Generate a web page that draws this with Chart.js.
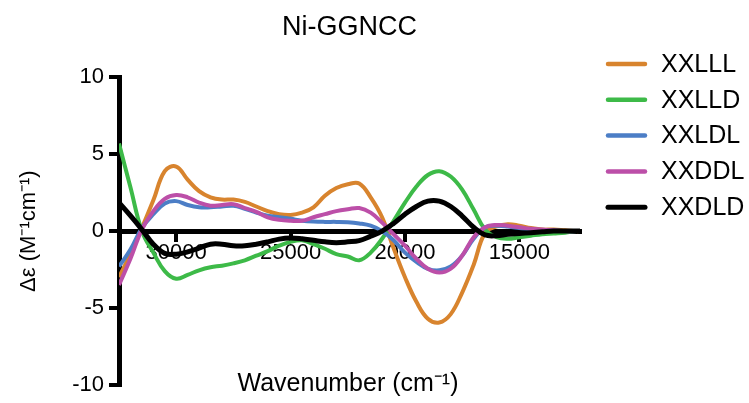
<!DOCTYPE html>
<html>
<head>
<meta charset="utf-8">
<script src="https://cdn.jsdelivr.net/npm/chart.js@4.4.0/dist/chart.umd.min.js"></script>
<style>
  html, body { margin: 0; padding: 0; background: #fff; }
  canvas { display: block; }
</style>
</head>
<body>
<canvas id="cdChart" width="749" height="403"></canvas>
<script>
// Wavenumber grid (cm-1), every 500
const wavenumbers = [32500, 32000, 31500, 31000, 30500, 30000, 29500, 29000, 28500, 28000,
  27500, 27000, 26500, 26000, 25500, 25000, 24500, 24000, 23500, 23000,
  22500, 22000, 21500, 21000, 20500, 20000, 19500, 19000, 18500, 18000,
  17500, 17000, 16500, 16000, 15500, 15000, 14500, 14000, 13500, 13000, 12500, 12350];

const seriesNames = ['XXLLL', 'XXLLD', 'XXLDL', 'XXDDL', 'XXDLD'];

const xxlll = [-3.0, -1.5, 0.2, 2.0, 3.9, 4.2, 3.35, 2.6, 2.2, 2.05,
  2.05, 1.9, 1.6, 1.3, 1.1, 1.05, 1.2, 1.55, 2.3, 2.8,
  3.05, 3.1, 2.2, 0.9, -1.1, -3.0, -4.6, -5.7, -5.95, -5.4,
  -4.0, -2.2, -0.1, 0.3, 0.45, 0.35, 0.2, 0.1, 0.1, 0.05, 0, 0];

const xxlld = [5.7, 2.85, 0.0, -1.4, -2.6, -3.1, -2.85, -2.55, -2.35, -2.25,
  -2.1, -1.9, -1.6, -1.3, -0.95, -0.7, -0.6, -0.85, -1.15, -1.5,
  -1.65, -1.9, -1.4, -0.5, 0.65, 1.85, 2.9, 3.65, 3.9, 3.55,
  2.7, 1.4, 0.1, -0.4, -0.5, -0.4, -0.3, -0.2, -0.15, -0.1, 0, 0];

const xxldl = [-2.3, -1.2, 0.2, 1.1, 1.8, 1.95, 1.7, 1.55, 1.55, 1.6,
  1.65, 1.45, 1.2, 1.0, 0.9, 0.8, 0.68, 0.62, 0.6, 0.6,
  0.58, 0.5, 0.35, 0.0, -0.6, -1.4, -2.0, -2.45, -2.55, -2.3,
  -1.6, -0.5, 0.25, 0.35, 0.3, 0.2, 0.1, 0.05, 0.05, 0, 0, 0];

const xxddl = [-3.5, -1.8, 0.1, 1.3, 2.1, 2.35, 2.2, 1.85, 1.65, 1.7,
  1.75, 1.5, 1.25, 0.9, 0.73, 0.67, 0.67, 0.9, 1.1, 1.3,
  1.42, 1.5, 1.2, 0.55, -0.2, -0.95, -1.8, -2.45, -2.7, -2.45,
  -1.6, -0.4, 0.25, 0.4, 0.35, 0.25, 0.15, 0.1, 0.05, 0, 0, 0];

const xxdld = [1.85, 1.0, 0.1, -0.85, -1.45, -1.5, -1.35, -1.1, -0.85, -0.85,
  -0.95, -0.95, -0.85, -0.7, -0.52, -0.45, -0.5, -0.6, -0.7, -0.75,
  -0.7, -0.62, -0.33, 0.0, 0.5, 1.1, 1.6, 1.95, 1.95, 1.6,
  0.98, 0.25, -0.25, -0.3, -0.2, -0.15, -0.1, -0.05, 0, 0, 0, 0];

const xTickValues = [30000, 25000, 20000, 15000];
const yTickValues = [-10, -5, 0, 5, 10];

const seriesValues = [xxlll, xxlld, xxldl, xxddl, xxdld];
const seriesColors = ['#D8842E', '#3DBA48', '#4C7EC6', '#BC4FA8', '#000000'];
const FONT = "'Liberation Sans', Arial, sans-serif";

// legend + x title drawn by hand (x axis sits at y = 0)
const extrasPlugin = {
  id: 'extras',
  afterDraw(chart) {
    const ctx = chart.ctx;
    ctx.save();
    ctx.fillStyle = '#000';
    ctx.font = '25px ' + FONT;
    ctx.textAlign = 'center';
    ctx.textBaseline = 'middle';
    ctx.fillText('Wavenumber (cm\u207B\u00B9)', 348, 384);

    ctx.textAlign = 'left';
    ctx.lineCap = 'round';
    seriesNames.forEach((name, i) => {
      const y = 64 + i * 35.8;
      ctx.strokeStyle = seriesColors[i];
      ctx.lineWidth = i === 4 ? 5 : 4.5;
      ctx.beginPath();
      ctx.moveTo(608, y);
      ctx.lineTo(645, y);
      ctx.stroke();
      ctx.fillText(name, 661, y + 1);
    });
    ctx.restore();
  }
};

const ctx = document.getElementById('cdChart').getContext('2d');
new Chart(ctx, {
  type: 'line',
  data: {
    datasets: seriesNames.map((name, i) => ({
      label: name,
      data: wavenumbers.map((w, j) => ({ x: w, y: seriesValues[i][j] })),
      borderColor: seriesColors[i],
      backgroundColor: seriesColors[i],
      borderWidth: i === 4 ? 5 : 4,
      pointRadius: 0,
      tension: 0.4,
      order: 5 - i
    }))
  },
  options: {
    responsive: false,
    animation: false,
    layout: { padding: { top: 0, right: 169, bottom: 16, left: 0 } },
    plugins: {
      legend: { display: false },
      tooltip: { enabled: false },
      title: {
        display: true,
        text: 'Ni-GGNCC',
        fullSize: false,
        color: '#000',
        font: { family: FONT, size: 27, weight: 'normal' },
        padding: { top: 11, bottom: 34 }
      }
    },
    scales: {
      x: {
        type: 'linear',
        reverse: true,
        min: 12350,
        max: 32500,
        position: { y: 0 },
        afterBuildTicks: (scale) => {
          scale.ticks = xTickValues.map(v => ({ value: v }));
        },
        grid: { display: true, drawOnChartArea: false, drawTicks: true, tickLength: 8, lineWidth: 4, color: '#000' },
        border: { display: true, width: 5, color: '#000' },
        ticks: {
          color: '#000', font: { family: FONT, size: 22 }, padding: 1, maxRotation: 0, autoSkip: false,
          callback: (v) => String(v)
        }
      },
      y: {
        min: -10,
        max: 10,
        afterBuildTicks: (scale) => {
          scale.ticks = yTickValues.map(v => ({ value: v }));
        },
        afterFit: (scale) => { scale.width = 119; },
        grid: { display: true, drawOnChartArea: false, drawTicks: true, tickLength: 10, lineWidth: 4, color: '#000' },
        border: { display: true, width: 5, color: '#000' },
        ticks: { color: '#000', font: { family: FONT, size: 22 }, padding: 5, callback: (v) => String(v) },
        title: {
          display: true,
          text: '\u0394\u03B5 (M\u207B\u00B9cm\u207B\u00B9)',
          color: '#000',
          font: { family: FONT, size: 22 },
          padding: { top: 16, bottom: 0 }
        }
      }
    }
  },
  plugins: [extrasPlugin]
});
</script>
</body>
</html>
